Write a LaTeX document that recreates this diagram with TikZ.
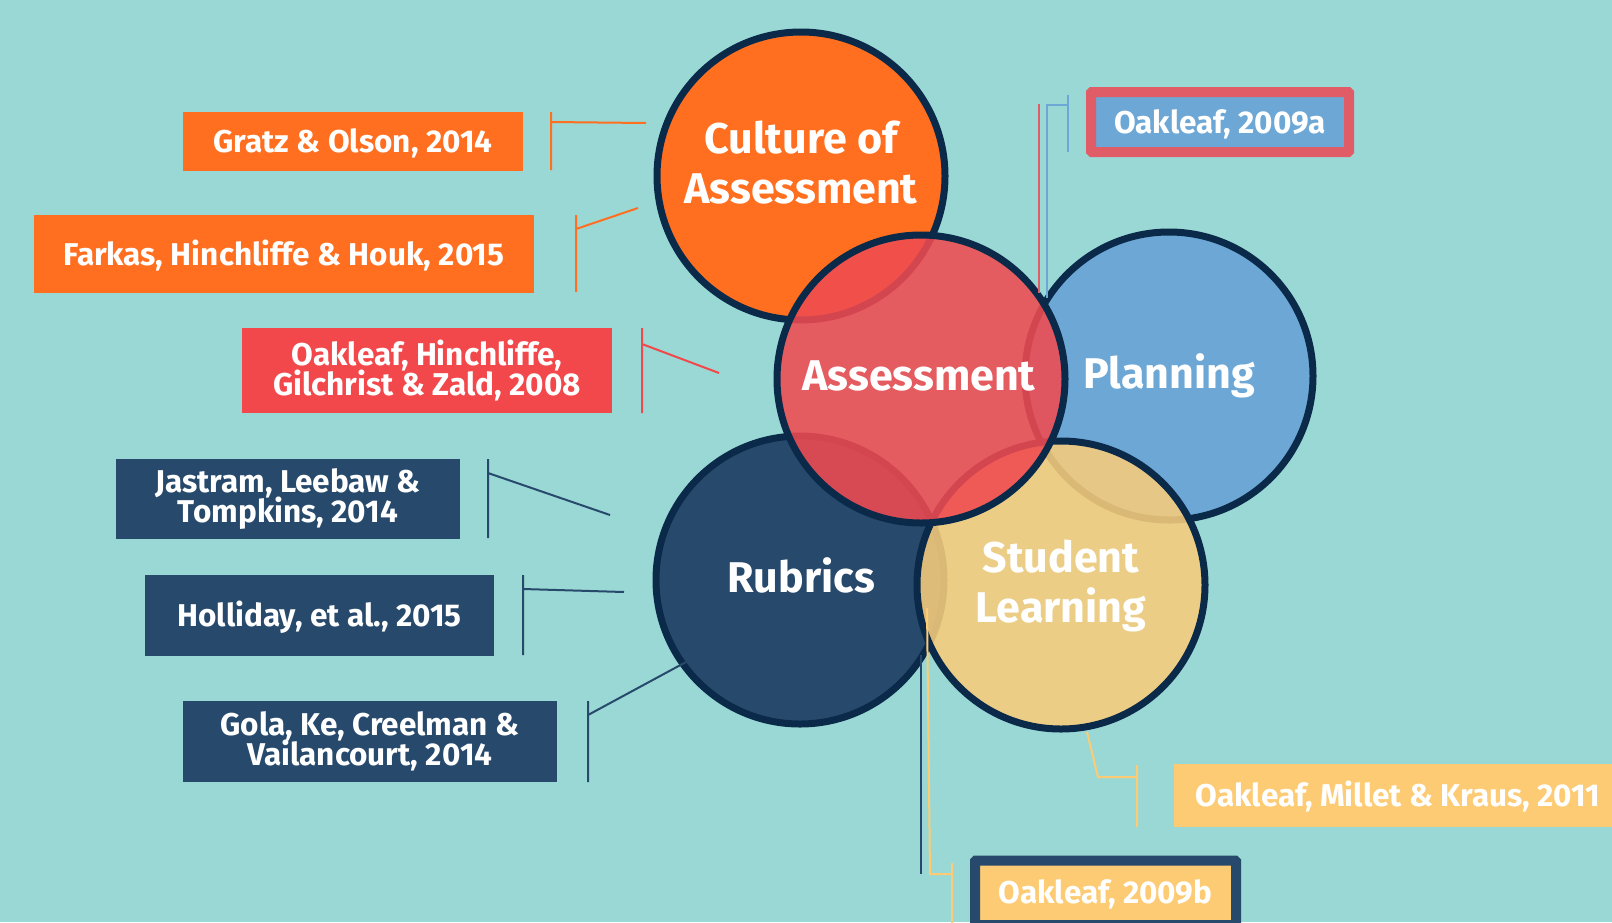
\documentclass[tikz,border=0pt]{standalone}
\usepackage{fontspec}
\setmainfont{Fira Sans}
\definecolor{bgc}{HTML}{9AD8D5}
\definecolor{ringc}{HTML}{0B2A4A}
\definecolor{orangec}{HTML}{FF6F1F}
\definecolor{redfill}{HTML}{F04B50}
\definecolor{redbox}{HTML}{F2484B}
\definecolor{bluec}{HTML}{6CA7D5}
\definecolor{navyc}{HTML}{274A6C}
\definecolor{yellowfill}{HTML}{F7CC7B}
\definecolor{yellowbox}{HTML}{FDCB74}
\definecolor{redframe}{HTML}{E05C66}
\newcommand{\lblfont}{\fontsize{31.5}{29.5}\selectfont\lineskiplimit=-50pt\bfseries}
\newcommand{\circfont}{\fontsize{43}{50}\selectfont\lineskiplimit=-50pt\bfseries}
\begin{document}
\begin{tikzpicture}[x=1pt,y=-1pt,
  ring/.style={circle, draw=ringc, line width=7pt, minimum size=288pt, inner sep=0pt},
  seethrough/.style={fill opacity=0.88, draw opacity=1, text opacity=1},
  circtext/.style={text=white, font=\circfont, align=center, inner sep=0pt},
  refbox/.style={rectangle, inner sep=0pt, text=white, font=\lblfont, align=center},
  oneline/.style={text height=22pt, text depth=0pt},
  lead/.style={line width=2pt}]
\clip (0,0) rectangle (1612,922);
\fill[bgc] (0,0) rectangle (1612,922);

% the five circles
\node[ring, fill=orangec] (cult) at (801,176) {};
\node[ring, fill=bluec] (plan) at (1169,376) {};
\node[ring, fill=navyc] (rubr) at (800,580) {};
\node[ring, fill=yellowfill, seethrough] (stud) at (1061,585) {};
\node[ring, fill=redfill, seethrough] (asmt) at (921,379) {};

% circle captions
\node[circtext] (cultT) at (801,162.5) {Culture of\\Assessment};
\node[circtext, anchor=base] (asmtT) at (919,390) {Assessment};
\node[circtext, anchor=base] (planT) at (1169,388) {Planning};
\node[circtext, anchor=base] (rubrT) at (801,592) {Rubrics};
\node[circtext] (studT) at (1061,586) {Student\\Learning};

% reference boxes, left side
\node[refbox, oneline, fill=orangec, minimum width=340pt, minimum height=59pt] (gratz) at (353,141.5) {Gratz \& Olson, 2014};
\node[refbox, oneline, fill=orangec, minimum width=500pt, minimum height=78pt] (farkas) at (284,254) {Farkas, Hinchliffe \& Houk, 2015};
\node[refbox, fill=redbox, minimum width=370pt, minimum height=85pt] (oak08) at (427,370.5) {Oakleaf, Hinchliffe,\\Gilchrist \& Zald, 2008};
\node[refbox, fill=navyc, minimum width=344pt, minimum height=80pt] (jast) at (288,499) {Jastram, Leebaw \&\\Tompkins, 2014};
\node[refbox, oneline, fill=navyc, minimum width=349pt, minimum height=81pt] (holl) at (319.5,615.5) {Holliday, et al., 2015};
\node[refbox, fill=navyc, minimum width=374pt, minimum height=81pt] (gola) at (370,741.5) {Gola, Ke, Creelman \&\\Vailancourt, 2014};

% reference boxes, right side
\node[refbox, oneline, fill=bluec, draw=redframe, line width=10pt, rounded corners=1pt, minimum width=258pt, minimum height=60pt] (oak09a) at (1220,122) {Oakleaf, 2009a};
\node[refbox, oneline, fill=yellowbox, minimum width=448pt, minimum height=63pt] (millet) at (1398,795.5) {Oakleaf, Millet \& Kraus, 2011};
\node[refbox, oneline, fill=yellowbox, draw=navyc, line width=10pt, rounded corners=1pt, minimum width=261pt, minimum height=64.5pt] (oak09b) at (1105.5,892.75) {Oakleaf, 2009b};

% leader coordinates
\coordinate (gratzT) at (551,112);  \coordinate (gratzB) at (551,170);
\coordinate (gratzJ) at (551,122);  \coordinate (gratzE) at (646,123);
\coordinate (farkT) at (576,215);   \coordinate (farkB) at (576,292);
\coordinate (farkJ) at (576,229);   \coordinate (farkE) at (638,208);
\coordinate (o08T) at (642,328);    \coordinate (o08B) at (642,413);
\coordinate (o08J) at (642,344);    \coordinate (o08E) at (719,373);
\coordinate (jastT) at (488,459);   \coordinate (jastB) at (488,538);
\coordinate (jastJ) at (488,473);   \coordinate (jastE) at (610,515);
\coordinate (hollT) at (523,575);   \coordinate (hollB) at (523,655);
\coordinate (hollJ) at (523,589);   \coordinate (hollE) at (624,592);
\coordinate (golaT) at (588,701);   \coordinate (golaB) at (588,782);
\coordinate (golaJ) at (588,715);   \coordinate (golaE) at (686,662);
\coordinate (milT) at (1137,765);   \coordinate (milB) at (1137,827);
\coordinate (milJ) at (1137,777);   \coordinate (milK) at (1098,777);
\coordinate (milE) at (1087,732);
\coordinate (o9aT) at (1068,95);    \coordinate (o9aB) at (1068,152);
\coordinate (o9aJ) at (1068,105);   \coordinate (o9aK) at (1047,105);
\coordinate (o9aE) at (1047,298);
\coordinate (o9aRT) at (1039,104);  \coordinate (o9aRE) at (1039,293);
\coordinate (o9bT) at (952,863);    \coordinate (o9bB) at (952,940);
\coordinate (o9bJ) at (952,874);    \coordinate (o9bK) at (930,874);
\coordinate (o9bE) at (927,608);
\coordinate (o9bNT) at (921,655);   \coordinate (o9bNB) at (921,874);

% leaders
\draw[lead, orangec] (gratzT) -- (gratzB) (gratzJ) -- (gratzE);
\draw[lead, orangec] (farkT) -- (farkB) (farkJ) -- (farkE);
\draw[lead, redbox] (o08T) -- (o08B) (o08J) -- (o08E);
\draw[lead, navyc] (jastT) -- (jastB) (jastJ) -- (jastE);
\draw[lead, navyc] (hollT) -- (hollB) (hollJ) -- (hollE);
\draw[lead, navyc] (golaT) -- (golaB) (golaJ) -- (golaE);
\draw[lead, yellowbox] (milT) -- (milB) (milJ) -- (milK) -- (milE);
\draw[lead, bluec] (o9aT) -- (o9aB) (o9aJ) -- (o9aK) -- (o9aE);
\draw[lead, redframe] (o9aRT) -- (o9aRE);
\draw[lead, navyc] (o9bNT) -- (o9bNB);
\draw[lead, yellowbox] (o9bT) -- (o9bB) (o9bJ) -- (o9bK) -- (o9bE);
\end{tikzpicture}
\end{document}
